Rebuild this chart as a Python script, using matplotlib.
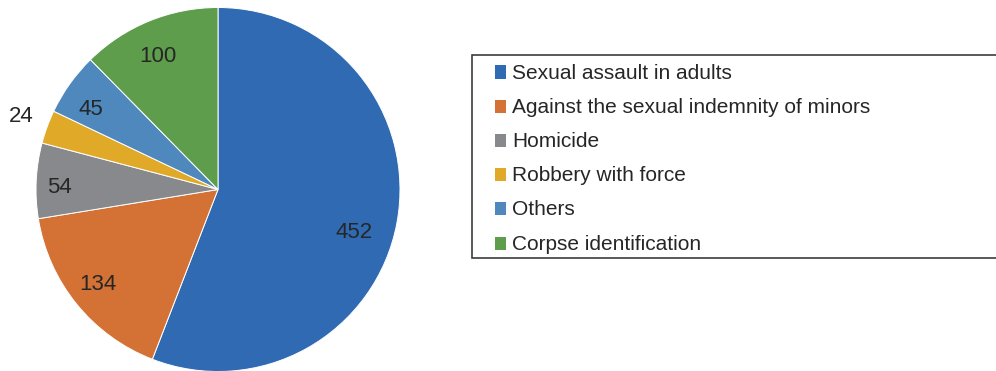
import matplotlib
matplotlib.use("Agg")
import matplotlib.pyplot as plt
from matplotlib.patches import Rectangle
import numpy as np

categories = ["Sexual assault in adults", "Against the sexual indemnity of minors",
              "Homicide", "Robbery with force", "Others", "Corpse identification"]
counts = [452, 134, 54, 24, 45, 100]
colors = ["#2F6AB3", "#D47236", "#87898C", "#E1A928", "#4E88BD", "#5E9D4B"]

# radial position (fraction of radius) and angular nudge (deg) for each count label
label_radius = [0.778, 0.836, 0.871, 1.156, 0.832, 0.812]
label_shift = [-6.2, -1.4, 1.3, -0.9, 2.4, 1.7]

plt.rcParams["font.family"] = ["Liberation Sans", "DejaVu Sans"]
TEXT = "#262626"

W, H = 996, 371
fig = plt.figure(figsize=(W / 100, H / 100), dpi=100)


def fx(px):
    return px / W


def fy(py):
    return 1 - py / H


# pie
cx, cy, r = 218, 189.5, 182
ax = fig.add_axes([fx(cx - r), fy(cy + r), 2 * r / W, 2 * r / H])
wedges, _ = ax.pie(counts, colors=colors, startangle=90, counterclock=False,
                   radius=1.0, wedgeprops=dict(edgecolor="white", linewidth=0.7))
ax.set_xlim(-1, 1)
ax.set_ylim(-1, 1)
ax.set_aspect("equal")
ax.axis("off")

num_fs = 16
for w, v, rr, sh in zip(wedges, counts, label_radius, label_shift):
    ang = np.deg2rad((w.theta1 + w.theta2) / 2 + sh)
    ax.annotate(str(v), xy=(rr * np.cos(ang), rr * np.sin(ang)),
                xytext=(0, -0.358 * num_fs), textcoords="offset points",
                ha="center", va="baseline", fontsize=num_fs, color=TEXT,
                annotation_clip=False)

# legend box (open on the right, running past the figure edge)
box_left, box_top, box_bottom = 472, 55.3, 258.3
fig.patches.append(Rectangle((fx(box_left), fy(box_bottom)), fx(W + 20 - box_left),
                             (box_bottom - box_top) / H, transform=fig.transFigure,
                             facecolor="white", edgecolor="#3C3C3C", linewidth=1.2,
                             clip_on=False))

leg_fs = 15
cap = 0.729 * leg_fs * 100 / 72
row0, row_step = 71, 34.2
for i, (name, c) in enumerate(zip(categories, colors)):
    yc = row0 + i * row_step
    fig.patches.append(Rectangle((fx(495), fy(yc + 7.5)), 11 / W, 13 / H,
                                 transform=fig.transFigure, facecolor=c,
                                 edgecolor="none"))
    fig.text(fx(512), fy(yc + cap / 2), name, ha="left", va="baseline",
             fontsize=leg_fs, color=TEXT)

fig.savefig("out.png", dpi=100)
